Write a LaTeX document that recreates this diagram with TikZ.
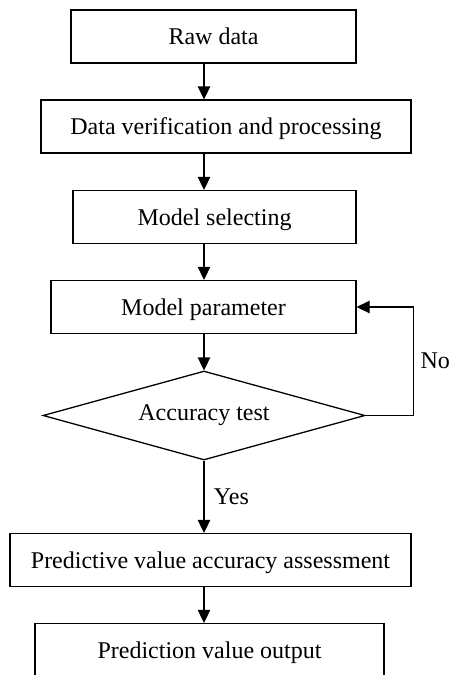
\documentclass[tikz,border=0pt]{standalone}
\usepackage{fontspec}
\setmainfont{Liberation Serif}
\usetikzlibrary{shapes.geometric,arrows.meta}

\begin{document}
\begin{tikzpicture}[x=1pt, y=-1pt,
	every node/.style={font=\fontsize{24}{28}\selectfont},
	box/.style={rectangle, draw, line width=1.3pt, minimum height=53pt, inner sep=0pt, text height=18pt, text depth=2pt},
	check/.style={diamond, draw, line width=1.3pt, aspect=3.6, inner sep=0pt, minimum width=322pt, minimum height=89pt},
	arr/.style={line width=1.3pt, -{Triangle[length=13pt, width=12.5pt]}}]
\clip (0,0) rectangle (453,675);
\coordinate (spine) at (204,0);
\node[box, minimum width=285pt] (raw) at (213.5,36.5) {Raw data};
\node[box, minimum width=370pt] (verify) at (226,126.5) {Data verification and processing};
\node[box, minimum width=283pt] (select) at (214.5,217) {Model selecting};
\node[box, minimum width=305pt] (param) at (203.5,307) {Model parameter};
\node[check] (test) at (204,415.5) {Accuracy test};
\node[box, minimum width=401pt] (assess) at (210.5,560) {Predictive value accuracy assessment};
\node[box, minimum width=349pt] (output) at (209.5,650) {Prediction value output};
\draw[arr] (raw.south -| spine) -- (verify.north -| spine);
\draw[arr] (verify.south -| spine) -- (select.north -| spine);
\draw[arr] (select.south -| spine) -- (param.north -| spine);
\draw[arr] (param.south -| spine) -- (test.north);
\draw[arr] (test.south) -- node[right, xshift=6pt] {Yes} (assess.north -| spine);
\draw[arr] (assess.south -| spine) -- (output.north -| spine);
\draw[arr] (test.east) -- ++(48,0) |- node[pos=0.25, right, xshift=3pt] {No} (param.east);
\end{tikzpicture}
\end{document}
